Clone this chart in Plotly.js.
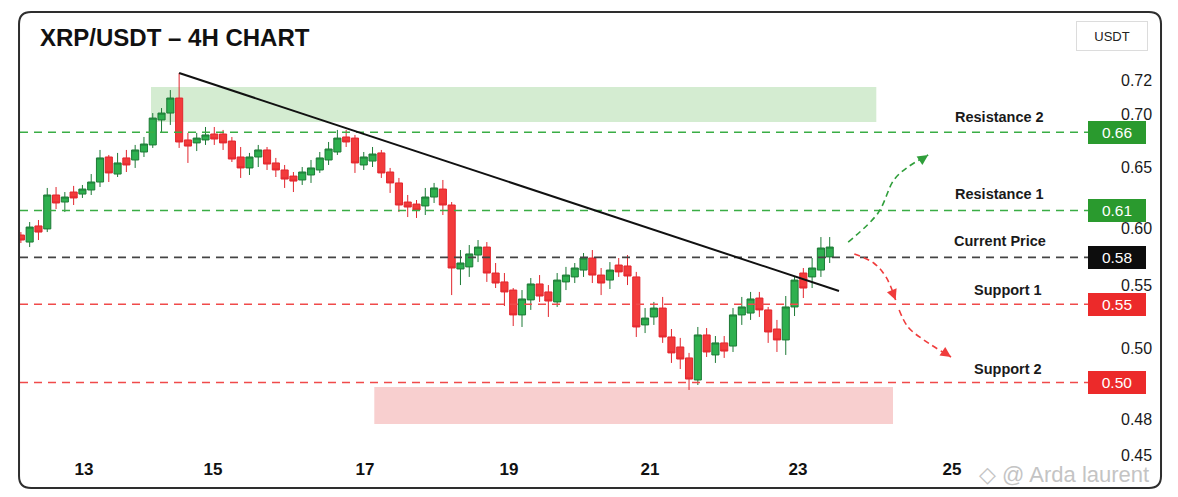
<!DOCTYPE html>
<html>
<head>
<meta charset="utf-8">
<script src="https://cdn.plot.ly/plotly-3.0.1.min.js"></script>
<style>
  html, body { margin: 0; padding: 0; background: #ffffff; }
  #chart { width: 1178px; height: 497px; }
</style>
</head>
<body>
<div id="chart"></div>
<script>
// ---------------- DATA ----------------
const openPrices = [
  0.5943,0.5898,0.6001,0.5982,0.6199,0.6154,0.6218,0.6205,0.6231,0.6282,
  0.6442,0.6333,0.6436,0.6423,0.6474,0.6519,0.6679,0.6723,0.6819,0.6551,
  0.6532,0.6551,0.6589,0.6589,0.6544,0.6442,0.6372,0.6442,0.6487,0.6404,
  0.6359,0.6320,0.6295,0.6327,0.6359,0.6423,0.6474,0.6570,0.6563,0.6391,
  0.6416,0.6468,0.6346,0.6276,0.6154,0.6141,0.6129,0.6186,0.6237,0.6135,
  0.5726,0.5739,0.5815,0.5866,0.5700,0.5643,0.5591,0.5432,0.5528,0.5630,
  0.5579,0.5515,0.5643,0.5675,0.5719,0.5796,0.5687,0.5655,0.5751,0.5745,
  0.5675,0.5368,0.5419,0.5476,0.5291,0.5227,0.5157,0.5016,0.5304,0.5176,
  0.5253,0.5233,0.5432,0.5444,0.5540,0.5464,0.5342,0.5272,0.5483,0.5700,
  0.5675,0.5719,0.5803
];
const highPrices = [
  0.5962,0.6026,0.6039,0.6244,0.6250,0.6218,0.6257,0.6263,0.6333,0.6487,
  0.6455,0.6468,0.6487,0.6519,0.6570,0.6723,0.6755,0.6870,0.6979,0.6596,
  0.6596,0.6634,0.6634,0.6615,0.6570,0.6506,0.6468,0.6519,0.6506,0.6436,
  0.6391,0.6346,0.6378,0.6423,0.6474,0.6538,0.6615,0.6615,0.6583,0.6474,
  0.6506,0.6487,0.6372,0.6308,0.6199,0.6167,0.6244,0.6276,0.6295,0.6154,
  0.5847,0.5879,0.5911,0.5898,0.5764,0.5700,0.5604,0.5591,0.5668,0.5687,
  0.5623,0.5700,0.5739,0.5764,0.5828,0.5847,0.5732,0.5770,0.5796,0.5815,
  0.5707,0.5476,0.5515,0.5547,0.5342,0.5285,0.5189,0.5355,0.5348,0.5297,
  0.5297,0.5476,0.5547,0.5579,0.5579,0.5483,0.5400,0.5553,0.5675,0.5732,
  0.5796,0.5930,0.5930
];
const lowPrices = [
  0.5892,0.5866,0.5911,0.5962,0.6109,0.6090,0.6135,0.6180,0.6199,0.6250,
  0.6282,0.6314,0.6346,0.6372,0.6442,0.6500,0.6602,0.6647,0.6500,0.6404,
  0.6480,0.6519,0.6519,0.6487,0.6410,0.6308,0.6327,0.6378,0.6359,0.6314,
  0.6244,0.6218,0.6263,0.6276,0.6340,0.6391,0.6455,0.6506,0.6340,0.6359,
  0.6378,0.6308,0.6212,0.6090,0.6058,0.6052,0.6071,0.6148,0.6071,0.5559,
  0.5623,0.5675,0.5770,0.5643,0.5604,0.5489,0.5361,0.5355,0.5464,0.5515,
  0.5419,0.5483,0.5591,0.5636,0.5675,0.5636,0.5559,0.5598,0.5675,0.5623,
  0.5291,0.5316,0.5368,0.5253,0.5125,0.5086,0.4952,0.4984,0.5163,0.5125,
  0.5157,0.5195,0.5368,0.5400,0.5419,0.5253,0.5195,0.5176,0.5425,0.5540,
  0.5604,0.5675,0.5764
];
const closePrices = [
  0.5911,0.5994,0.5962,0.6199,0.6148,0.6186,0.6180,0.6237,0.6282,0.6436,
  0.6340,0.6404,0.6391,0.6487,0.6525,0.6691,0.6723,0.6819,0.6538,0.6512,
  0.6563,0.6583,0.6557,0.6532,0.6429,0.6372,0.6442,0.6487,0.6397,0.6359,
  0.6301,0.6288,0.6346,0.6372,0.6436,0.6493,0.6563,0.6538,0.6404,0.6442,
  0.6461,0.6340,0.6276,0.6135,0.6122,0.6103,0.6186,0.6244,0.6135,0.5732,
  0.5764,0.5822,0.5866,0.5700,0.5636,0.5579,0.5432,0.5534,0.5630,0.5553,
  0.5521,0.5655,0.5687,0.5732,0.5796,0.5687,0.5636,0.5719,0.5707,0.5681,
  0.5355,0.5412,0.5476,0.5291,0.5189,0.5150,0.5022,0.5304,0.5195,0.5253,
  0.5201,0.5432,0.5483,0.5534,0.5464,0.5323,0.5272,0.5483,0.5655,0.5604,
  0.5732,0.5860,0.5866
];

const dayLabels = ['13', '15', '17', '19', '21', '23', '25'];
const priceTickLabels = ['0.72', '0.70', '0.65', '0.60', '0.55', '0.50', '0.48', '0.45'];

const levelNames  = ['Resistance 2', 'Resistance 1', 'Current Price', 'Support 1', 'Support 2'];
const levelValues = [0.66, 0.61, 0.58, 0.55, 0.50];
const levelLabels = ['0.66', '0.61', '0.58', '0.55', '0.50'];

// trend line (candle index, price)
const trendIndex = [18, 93.06];
const trendPrice = [0.6979, 0.5585];

// zones: [start index, end index, low price, high price]
const resistanceZone = [14.8, 97.3, 0.6666, 0.6890];
const supportZone    = [40.2, 99.2, 0.4735, 0.4971];

// projected paths
const bullPathIndex  = [94.1, 97.5, 99.3, 100.9, 103.2];
const bullPathPrice  = [0.5898, 0.6084, 0.6295, 0.6378, 0.6455];
const bearPath1Index = [94.8, 97.0, 98.4, 99.5];
const bearPath1Price = [0.5822, 0.5764, 0.5675, 0.5528];
const bearPath2Index = [99.9, 100.9, 102.7, 105.8];
const bearPath2Price = [0.5464, 0.5355, 0.5272, 0.5163];

// ---------------- LAYOUT / STYLE ----------------
const candleIndex = openPrices.map((_, i) => i);
const dayTickPositions = [7.17, 21.84, 39.14, 55.52, 71.56, 88.40, 105.9];
const priceTickPositions = [0.6934, 0.6717, 0.6378, 0.5988, 0.5623, 0.5220, 0.4766, 0.4536];

const levelLineColors = ['#3aad45', '#3aad45', '#444444', '#f04a4a', '#f04a4a'];
const levelBoxColors  = ['#2a9a2e', '#2a9a2e', '#0d0d0d', '#ec2a2a', '#ec2a2a'];
const levelTextX      = [0.904, 0.904, 0.904, 0.911, 0.911];
const levelTextShift  = [15, 16, 16, 14, 13];

const FONT = 'Liberation Sans, Arial, sans-serif';
const X_END_LINE = 121.5;

const traces = [];

levelValues.forEach((v, i) => {
  traces.push({
    type: 'scatter', mode: 'lines',
    x: [-0.1, X_END_LINE], y: [v, v],
    line: { color: levelLineColors[i], width: 1.6, dash: '8px,6px' },
    hoverinfo: 'skip', showlegend: false
  });
});

traces.push({
  type: 'candlestick',
  x: candleIndex,
  open: openPrices, high: highPrices, low: lowPrices, close: closePrices,
  increasing: { line: { color: '#1d7a36', width: 1 }, fillcolor: '#2eb04f' },
  decreasing: { line: { color: '#e2262e', width: 1 }, fillcolor: '#f23b3b' },
  whiskerwidth: 0,
  hoverinfo: 'skip', showlegend: false
});

traces.push({
  type: 'scatter', mode: 'lines',
  x: trendIndex, y: trendPrice,
  line: { color: '#111111', width: 2 },
  hoverinfo: 'skip', showlegend: false
});

traces.push({
  type: 'scatter', mode: 'lines', x: bullPathIndex, y: bullPathPrice,
  line: { color: '#2f9e3a', width: 1.6, dash: '6px,4px', shape: 'spline' },
  hoverinfo: 'skip', showlegend: false
});
traces.push({
  type: 'scatter', mode: 'lines', x: bearPath1Index, y: bearPath1Price,
  line: { color: '#f03c3c', width: 1.6, dash: '6px,4px', shape: 'spline' },
  hoverinfo: 'skip', showlegend: false
});
traces.push({
  type: 'scatter', mode: 'lines', x: bearPath2Index, y: bearPath2Price,
  line: { color: '#f03c3c', width: 1.6, dash: '6px,4px', shape: 'spline' },
  hoverinfo: 'skip', showlegend: false
});

const annotations = [];

levelValues.forEach((v, i) => {
  annotations.push({
    xref: 'paper', yref: 'y', x: levelTextX[i], y: v, yshift: levelTextShift[i],
    text: '<b>' + levelNames[i] + '</b>', showarrow: false,
    font: { family: FONT, size: 14.5, color: '#1a1a1a' },
    xanchor: 'center', yanchor: 'middle'
  });
  annotations.push({
    xref: 'paper', yref: 'y', x: 1.012, y: v,
    text: levelLabels[i], showarrow: false,
    font: { family: FONT, size: 15.5, color: '#ffffff' },
    bgcolor: levelBoxColors[i], bordercolor: levelBoxColors[i], borderwidth: 1,
    width: 52, height: 17, borderpad: 2,
    xanchor: 'center', yanchor: 'middle'
  });
});

// arrow heads of projected paths
function head(path, pathY, color, ax, ay) {
  const n = path.length - 1;
  annotations.push({
    xref: 'x', yref: 'y', x: path[n], y: pathY[n],
    ax: ax, ay: ay, showarrow: true,
    arrowhead: 2, arrowsize: 1.3, arrowwidth: 1.6, arrowcolor: color,
    standoff: 0, text: ''
  });
}
head(bullPathIndex, bullPathPrice, '#2f9e3a', -9, 6);
head(bearPath1Index, bearPath1Price, '#f03c3c', -4, -10);
head(bearPath2Index, bearPath2Price, '#f03c3c', -9, -6);

annotations.push({
  xref: 'paper', yref: 'paper', x: 1.0074, y: 1.0605,
  text: 'USDT', showarrow: false,
  font: { family: FONT, size: 13, color: '#222222' },
  bgcolor: '#ffffff', bordercolor: '#dcdcdc', borderwidth: 1,
  width: 66, height: 24, borderpad: 2,
  xanchor: 'center', yanchor: 'middle'
});

annotations.push({
  xref: 'paper', yref: 'paper', x: 0.883, y: -0.043,
  text: '\u25C7 @ Arda laurent', showarrow: false,
  font: { family: FONT, size: 22, color: '#c4c4c4' },
  xanchor: 'left', yanchor: 'middle'
});

// frame (rounded card)
const L = -0.0009, R = 1.0526, T = 1.1209, B = -0.0781, rx = 0.0111, ry = 0.0302;
const framePath = `M ${L+rx},${T} L ${R-rx},${T} Q ${R},${T} ${R},${T-ry} L ${R},${B+ry} Q ${R},${B} ${R-rx},${B} L ${L+rx},${B} Q ${L},${B} ${L},${B+ry} L ${L},${T-ry} Q ${L},${T} ${L+rx},${T} Z`;

const shapes = [
  { type: 'rect', xref: 'x', yref: 'y', layer: 'below',
    x0: resistanceZone[0], x1: resistanceZone[1], y0: resistanceZone[2], y1: resistanceZone[3],
    fillcolor: '#d4ecd1', line: { width: 0 } },
  { type: 'rect', xref: 'x', yref: 'y', layer: 'below',
    x0: supportZone[0], x1: supportZone[1], y0: supportZone[2], y1: supportZone[3],
    fillcolor: '#f8cfcf', line: { width: 0 } },
  { type: 'path', xref: 'paper', yref: 'paper', path: framePath,
    line: { color: '#2e2e2e', width: 2 }, fillcolor: 'rgba(0,0,0,0)', layer: 'above' }
];

const layout = {
  width: 1178, height: 497,
  margin: { l: 20, r: 74, t: 60, b: 40 },
  paper_bgcolor: '#ffffff', plot_bgcolor: '#ffffff',
  showlegend: false, hovermode: false,
  boxgap: 0.1, boxgroupgap: 0.1,
  title: {
    text: 'XRP/USDT \u2013 4H CHART',
    font: { family: FONT, size: 24, color: '#111111', weight: 'bold' },
    x: 40 / 1178, xanchor: 'left', xref: 'container',
    y: 1 - 38 / 497, yanchor: 'middle', yref: 'container'
  },
  xaxis: {
    type: 'linear', range: [-0.1, 123.2],
    tickmode: 'array', tickvals: dayTickPositions, ticktext: dayLabels,
    tickfont: { family: FONT, size: 17, color: '#111111', weight: 'bold' },
    showgrid: false, zeroline: false, showline: false, ticks: '',
    rangeslider: { visible: false }, fixedrange: true
  },
  yaxis: {
    side: 'right', range: [0.45234, 0.70623],
    tickmode: 'array', tickvals: priceTickPositions, ticktext: priceTickLabels,
    tickfont: { family: FONT, size: 16, color: '#1a1a1a' },
    ticklabelstandoff: 16,
    showgrid: false, zeroline: false, showline: false, ticks: '',
    fixedrange: true
  },
  shapes: shapes,
  annotations: annotations
};

Plotly.newPlot('chart', traces, layout, { staticPlot: true, displayModeBar: false });
</script>
</body>
</html>
